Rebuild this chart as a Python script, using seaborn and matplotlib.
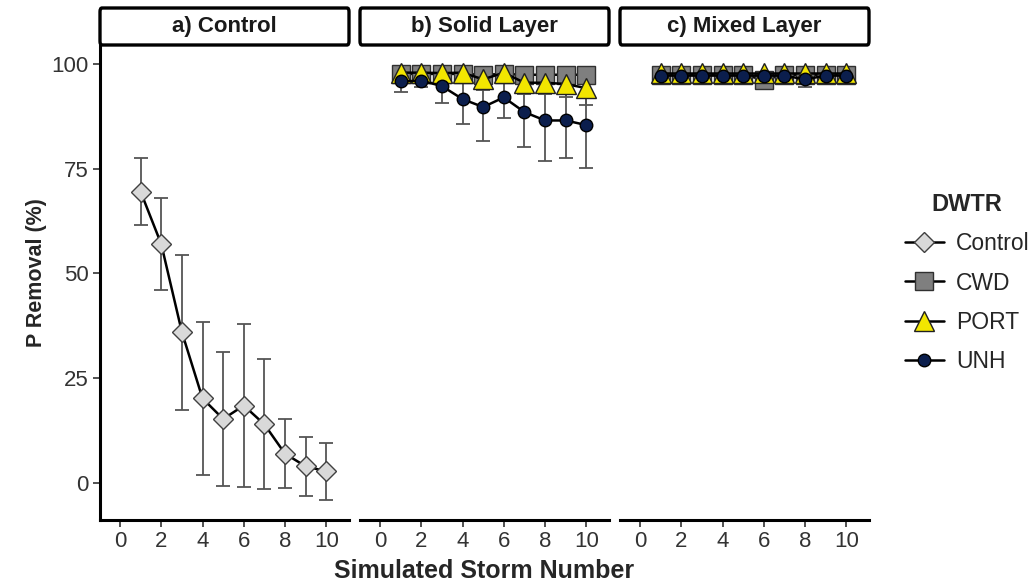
import numpy as np
import pandas as pd
import matplotlib
matplotlib.use("Agg")
import matplotlib.pyplot as plt
from matplotlib.lines import Line2D
from matplotlib.patches import FancyBboxPatch
import seaborn as sns

storms = [1, 2, 3, 4, 5, 6, 7, 8, 9, 10]
panels = ["a) Control", "b) Solid Layer", "c) Mixed Layer"]
groups = ["Control", "CWD", "PORT", "UNH"]

# a) Control
control_mean = [69.5, 57, 36, 20.2, 15.3, 18.5, 14, 7, 4, 2.8]
control_sd = [8, 11, 18.5, 18.3, 16, 19.5, 15.5, 8.2, 7, 6.8]

# b) Solid Layer
solid_cwd = [97.6, 97.6, 97.6, 97.6, 97.4, 97.6, 97.4, 97.4, 97.4, 97.4]
solid_cwd_sd = [0.6, 0.6, 0.6, 0.6, 0.8, 0.6, 0.8, 0.8, 0.8, 0.8]
solid_port = [97.9, 97.9, 97.8, 97.9, 96.3, 97.9, 95.5, 95.5, 95.2, 94.2]
solid_port_sd = [0.8, 0.8, 1.0, 0.8, 2.5, 0.8, 2.8, 2.6, 3.2, 3.9]
solid_unh = [95.8, 96.0, 94.7, 91.6, 89.7, 92.0, 88.5, 86.5, 86.5, 85.4]
solid_unh_sd = [2.4, 1.6, 4.0, 6.0, 8.0, 4.8, 8.4, 9.6, 9.0, 10.3]

# c) Mixed Layer
mixed_cwd = [97.4, 97.4, 97.4, 97.4, 97.4, 96.2, 97.4, 97.4, 97.4, 97.4]
mixed_cwd_sd = [0.4, 0.4, 0.4, 0.4, 0.4, 1.5, 0.4, 0.4, 0.4, 0.4]
mixed_port = [97.8, 97.8, 97.8, 97.8, 97.8, 97.8, 97.8, 97.8, 97.8, 97.8]
mixed_port_sd = [0.3, 0.3, 0.3, 0.3, 0.3, 0.3, 0.3, 0.3, 0.3, 0.3]
mixed_unh = [97.2, 97.2, 97.2, 97.2, 97.2, 97.2, 97.2, 96.3, 97.2, 97.2]
mixed_unh_sd = [0.3, 0.3, 0.3, 0.3, 0.3, 0.3, 0.3, 1.8, 0.3, 0.3]

rows = []
def add(panel, grp, mean, sd):
    for s, m, e in zip(storms, mean, sd):
        rows.append({"panel": panel, "dwtr": grp, "storm": s, "removal": m, "sd": e})

add(panels[0], "Control", control_mean, control_sd)
add(panels[1], "CWD", solid_cwd, solid_cwd_sd)
add(panels[1], "PORT", solid_port, solid_port_sd)
add(panels[1], "UNH", solid_unh, solid_unh_sd)
add(panels[2], "CWD", mixed_cwd, mixed_cwd_sd)
add(panels[2], "PORT", mixed_port, mixed_port_sd)
add(panels[2], "UNH", mixed_unh, mixed_unh_sd)
df = pd.DataFrame(rows)

style = {
    "Control": dict(marker="D", markersize=10.5, markerfacecolor="#d9d9d9", markeredgecolor="#404040"),
    "CWD": dict(marker="s", markersize=13, markerfacecolor="#7f7f7f", markeredgecolor="#303030"),
    "PORT": dict(marker="^", markersize=14, markerfacecolor="#f2e600", markeredgecolor="#202020"),
    "UNH": dict(marker="o", markersize=9, markerfacecolor="#0b1e4d", markeredgecolor="#000000"),
}

sns.set_theme(style="white")
plt.rcParams["font.family"] = ["Liberation Sans", "DejaVu Sans"]

fig = plt.figure(figsize=(10.36, 5.83), dpi=100)
W, H = 1036, 583
lefts = [100, 360, 620]
axes = []
for i, p in enumerate(panels):
    ax = fig.add_axes([lefts[i] / W, 1 - 520 / H, 249 / W, 475 / H])
    axes.append(ax)
    sub = df[df["panel"] == p]
    for g in groups:
        d = sub[sub["dwtr"] == g]
        if d.empty:
            continue
        ax.errorbar(d["storm"], d["removal"], yerr=d["sd"], fmt="none",
                    ecolor="#555555", elinewidth=1.3, capsize=5, capthick=1.3, zorder=2)
        sns.lineplot(data=d, x="storm", y="removal", ax=ax, color="black",
                     linewidth=1.8, markeredgewidth=1.0, zorder=3, **style[g])
    ax.set_xlim(-0.97, 11.1)
    ax.set_ylim(-8.8, 104.5)
    ax.set_xticks([0, 2, 4, 6, 8, 10])
    ax.set_yticks([0, 25, 50, 75, 100])
    ax.tick_params(axis="both", labelsize=16, colors="#333333", length=5, width=1.2,
                   direction="out", bottom=True, left=(i == 0), pad=3)
    for lab in ax.get_xticklabels() + ax.get_yticklabels():
        lab.set_color("#333333")
    ax.set_xlabel("")
    ax.set_ylabel("")
    for side in ["top", "right"]:
        ax.spines[side].set_visible(False)
    ax.spines["bottom"].set_color("black")
    ax.spines["bottom"].set_linewidth(2.2)
    if i == 0:
        ax.spines["left"].set_color("black")
        ax.spines["left"].set_linewidth(2.2)
    else:
        ax.spines["left"].set_visible(False)
        ax.set_yticklabels([])
    # strip label
    strip = FancyBboxPatch((0, 1.0), 1, 37 / 475, boxstyle="round,pad=0,rounding_size=0.008",
                           transform=ax.transAxes, facecolor="white",
                           edgecolor="black", linewidth=2.4, clip_on=False)
    ax.add_patch(strip)
    ax.text(0.5, 1.0 + 18.5 / 475, p, transform=ax.transAxes, ha="center", va="center",
            fontsize=16, fontweight="bold", color="#1a1a1a")

axes[0].set_ylabel("P Removal (%)", fontsize=15.5, fontweight="bold")
axes[0].yaxis.set_label_coords(-0.213, 0.52)
fig.text(484 / W, 1 - 571 / H, "Simulated Storm Number", ha="center", va="center",
         fontsize=18, fontweight="bold")

handles = [Line2D([0], [0], color="black", linewidth=1.8, markeredgewidth=1.0, **style[g])
           for g in groups]
fig.legend(handles, groups, title="DWTR", loc="center left", bbox_to_anchor=(884 / W, 1 - 283 / H),
           frameon=False, fontsize=16.5, title_fontproperties={"weight": "bold", "size": 17},
           handlelength=1.7, labelspacing=0.7, handletextpad=0.55)

fig.savefig("out.png", dpi=100)
